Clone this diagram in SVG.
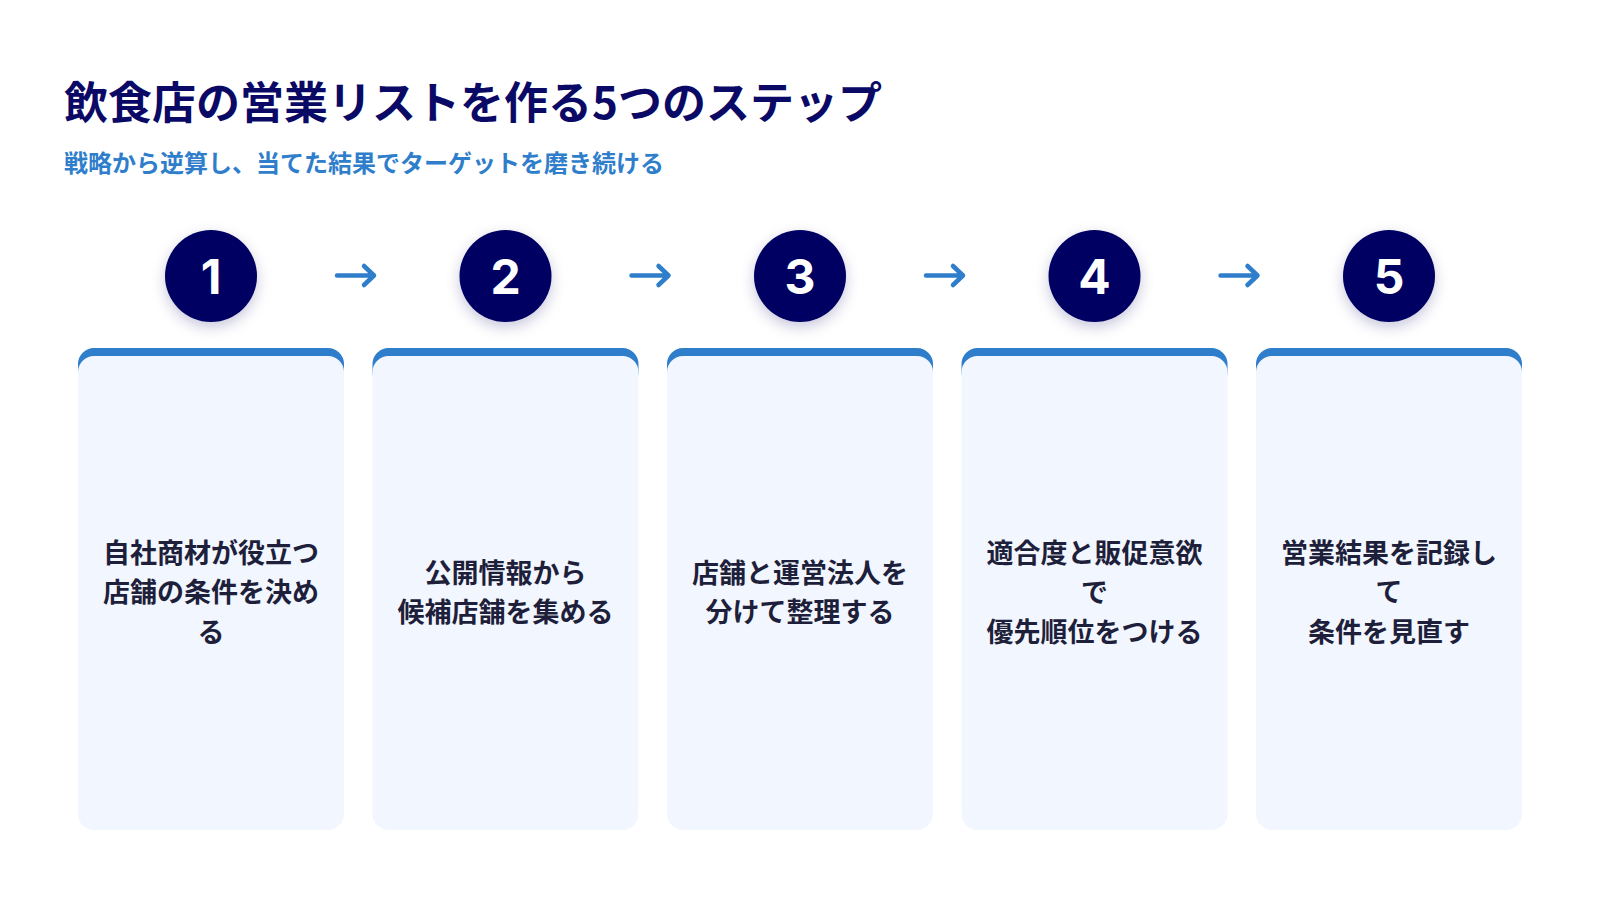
<svg xmlns="http://www.w3.org/2000/svg" width="1600" height="900" viewBox="0 0 1600 900">
<defs>
<style>
.title{font-family:"Noto Sans CJK JP","Noto Sans",sans-serif;font-weight:700;font-size:44px;fill:#0a0a66}
.sub{font-family:"Noto Sans CJK JP","Noto Sans",sans-serif;font-weight:700;font-size:24px;fill:#2f7ecb}
.num{font-family:Inter,"Noto Sans",sans-serif;font-weight:700;font-size:48px;fill:#ffffff;text-anchor:middle}
.txt{font-family:"Noto Sans CJK JP","Noto Sans",sans-serif;font-weight:700;font-size:27px;fill:#1e1f3b;text-anchor:middle}
.band{fill:#2f7ecb}
.body{fill:#f2f6fe}
.circ{fill:#050563}
.arr{fill:none;stroke:#2f7ecb;stroke-width:4.5;stroke-linecap:round;stroke-linejoin:round}
</style>
<filter id="sh" x="-50%" y="-50%" width="200%" height="200%">
<feDropShadow dx="0" dy="5" stdDeviation="7" flood-color="#0a0a66" flood-opacity="0.22"/>
</filter>
</defs>
<rect width="1600" height="900" fill="#ffffff"/>
<text class="title" x="64" y="119">飲食店の営業リストを作る5つのステップ</text>
<text class="sub" x="64" y="172">戦略から逆算し、当てた結果でターゲットを磨き続ける</text>

<g id="connectors">
<path class="arr" d="M337 275.5H374M364 266L374 275.5L364 285"/>
<path class="arr" d="M631.5 275.5H668.5M658.5 266L668.5 275.5L658.5 285"/>
<path class="arr" d="M926 275.5H963M953 266L963 275.5L953 285"/>
<path class="arr" d="M1220.5 275.5H1257.5M1247.5 266L1257.5 275.5L1247.5 285"/>
</g>

<g id="step1">
<circle class="circ" cx="211" cy="276" r="46" filter="url(#sh)"/>
<text class="num" x="211" y="293.5">1</text>
<rect class="band" x="78" y="348" width="266" height="40" rx="16"/>
<rect class="body" x="78" y="356" width="266" height="474" rx="16"/>
<text class="txt" x="211" y="562.5">自社商材が役立つ</text>
<text class="txt" x="211" y="602">店舗の条件を決め</text>
<text class="txt" x="211" y="641.5">る</text>
</g>

<g id="step2">
<circle class="circ" cx="505.5" cy="276" r="46" filter="url(#sh)"/>
<text class="num" x="505.5" y="293.5">2</text>
<rect class="band" x="372.5" y="348" width="266" height="40" rx="16"/>
<rect class="body" x="372.5" y="356" width="266" height="474" rx="16"/>
<text class="txt" x="505.5" y="582.5">公開情報から</text>
<text class="txt" x="505.5" y="622">候補店舗を集める</text>
</g>

<g id="step3">
<circle class="circ" cx="800" cy="276" r="46" filter="url(#sh)"/>
<text class="num" x="800" y="293.5">3</text>
<rect class="band" x="667" y="348" width="266" height="40" rx="16"/>
<rect class="body" x="667" y="356" width="266" height="474" rx="16"/>
<text class="txt" x="800" y="582.5">店舗と運営法人を</text>
<text class="txt" x="800" y="622">分けて整理する</text>
</g>

<g id="step4">
<circle class="circ" cx="1094.5" cy="276" r="46" filter="url(#sh)"/>
<text class="num" x="1094.5" y="293.5">4</text>
<rect class="band" x="961.5" y="348" width="266" height="40" rx="16"/>
<rect class="body" x="961.5" y="356" width="266" height="474" rx="16"/>
<text class="txt" x="1094.5" y="562.5">適合度と販促意欲</text>
<text class="txt" x="1094.5" y="602">で</text>
<text class="txt" x="1094.5" y="641.5">優先順位をつける</text>
</g>

<g id="step5">
<circle class="circ" cx="1389" cy="276" r="46" filter="url(#sh)"/>
<text class="num" x="1389" y="293.5">5</text>
<rect class="band" x="1256" y="348" width="266" height="40" rx="16"/>
<rect class="body" x="1256" y="356" width="266" height="474" rx="16"/>
<text class="txt" x="1389" y="562.5">営業結果を記録し</text>
<text class="txt" x="1389" y="602">て</text>
<text class="txt" x="1389" y="641.5">条件を見直す</text>
</g>
</svg>
